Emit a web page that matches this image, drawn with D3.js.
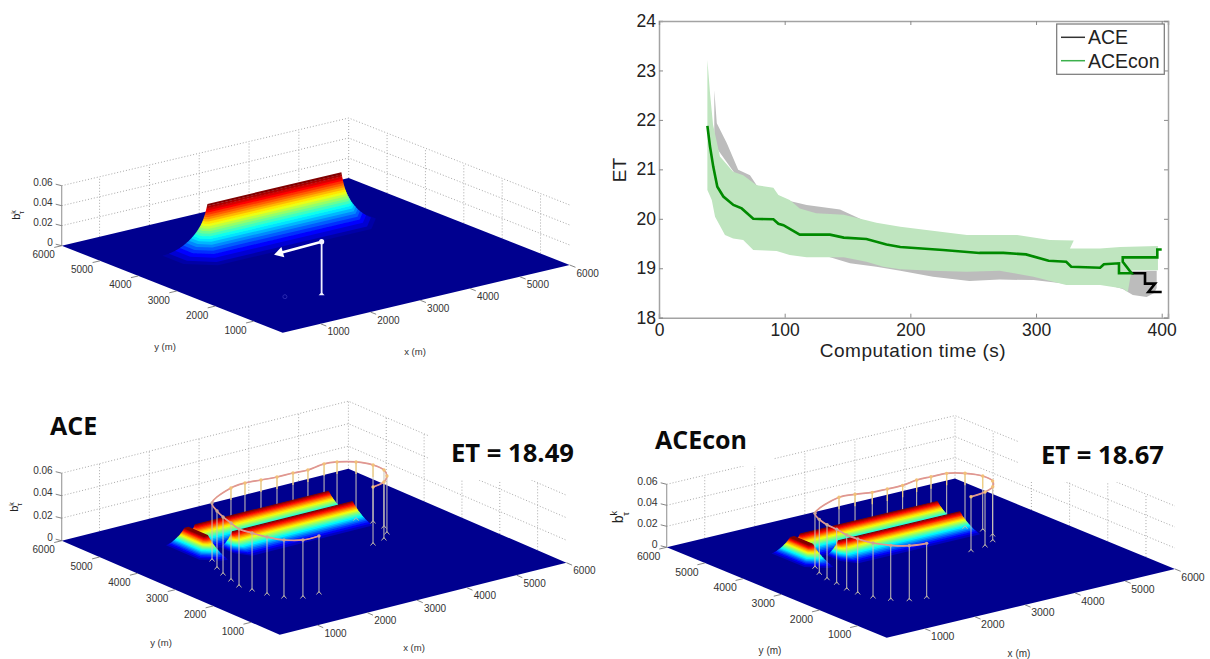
<!DOCTYPE html>
<html>
<head>
<meta charset="utf-8">
<script src="https://cdn.jsdelivr.net/npm/d3@7"></script>
<style>
  html, body { margin: 0; padding: 0; background: #fff; }
  svg { display: block; }
  text { font-family: "Liberation Sans", Arial, sans-serif; }
</style>
</head>
<body>
<div id="chart"></div>
<script>
// ---------- convergence plot (top right) ----------
var etTicks = [18, 19, 20, 21, 22, 23, 24];
var timeTicks = [0, 100, 200, 300, 400];

var aceconT = [38.5, 40.6, 43.2, 46.4, 51.2, 59.2, 65.8, 75, 91, 95, 99, 112, 136, 147, 165, 181, 192, 226, 255, 274, 292, 310, 324, 328, 351, 354, 366, 366, 376, 369, 369, 396.5, 396.5, 400];
var aceconMean = [21.88, 21.46, 21.05, 20.65, 20.45, 20.28, 20.21, 20.0, 19.99, 19.9, 19.87, 19.68, 19.68, 19.62, 19.59, 19.48, 19.43, 19.37, 19.31, 19.31, 19.28, 19.15, 19.13, 19.03, 19.01, 19.08, 19.1, 18.9, 18.9, 19.13, 19.22, 19.22, 19.38, 19.38];
var aceconUpT = [38.5, 40.6, 43, 48.5, 59, 67, 77.7, 91, 95, 104, 112, 125, 147, 165, 173, 192, 224, 245, 285, 311, 330, 327, 351, 367, 397];
var aceconUp = [23.21, 22.54, 21.9, 21.26, 20.95, 20.88, 20.68, 20.63, 20.48, 20.38, 20.21, 20.11, 20.08, 19.97, 19.92, 19.84, 19.74, 19.67, 19.67, 19.57, 19.56, 19.4, 19.4, 19.43, 19.45];
var aceconLowT = [38.5, 42, 44.6, 52.5, 59, 67, 75, 93.6, 104, 117.5, 147, 165, 178.5, 192, 218, 245, 271, 298, 324, 351, 369, 373, 376, 397];
var aceconLow = [20.58, 20.38, 20.04, 19.67, 19.6, 19.57, 19.37, 19.35, 19.27, 19.22, 19.22, 19.13, 19.03, 18.98, 18.95, 18.93, 18.95, 18.83, 18.66, 18.66, 18.59, 18.52, 18.96, 18.96];

var aceT = [376, 386.7, 386.7, 394.7, 389.4, 400];
var aceMean = [18.9, 18.9, 18.69, 18.69, 18.52, 18.52];
var aceUpT = [44, 46, 54, 63, 72.4, 77.7, 104, 117.5, 144, 160, 200, 300, 369, 396];
var aceUp = [22.6, 21.93, 21.53, 20.99, 20.88, 20.68, 20.36, 20.28, 20.19, 20.0, 19.5, 19.2, 18.95, 18.95];
var aceLowT = [44, 100, 152, 173, 192, 218, 247, 271, 298, 322, 352, 369, 377, 388, 394, 396];
var aceLow = [21.5, 19.5, 19.1, 19.03, 18.95, 18.83, 18.74, 18.77, 18.76, 18.69, 18.7, 18.58, 18.46, 18.42, 18.5, 18.6];

// ---------- surface plots ----------
var floorTicks = [1000, 2000, 3000, 4000, 5000, 6000];
var beliefTicks = [0, 0.02, 0.04, 0.06];

// single ridge, top panel
var topRidgeX0 = [1968];
var topRidgeX1 = [4656];
var topRidgeY0 = [4445];
var topRidgeY1 = [4445];
var topLevels = [0.045, 0.043, 0.041, 0.039, 0.037, 0.035, 0.033, 0.031, 0.029, 0.027, 0.025, 0.023, 0.021, 0.019, 0.017, 0.015, 0.013, 0.011, 0.009, 0.007, 0.005, 0.003, 0.001, 0];
var topReach = [0, 8, 16, 24, 34, 44, 56, 68, 82, 98, 116, 136, 160, 186, 214, 246, 282, 322, 368, 420, 480, 560, 670, 780];

// top panel track: the last leg flown and where the sensor sits
var topTrackX = [1953, 1069];
var topTrackY = [1450, 1389];
var topTrackZ = 0.0526;
var topGroundX = [1416];
var topGroundY = [1709];

// two ridges and their hooked end, lower panels
var aceRidgeX0 = [1953, 2217, 1720];
var aceRidgeX1 = [4637, 4637, 1800];
var aceRidgeY0 = [4733, 4099, 4190];
var aceRidgeY1 = [4733, 4099, 4700];
var conRidgeX0 = [1895, 2170, 1670];
var conRidgeX1 = [4638, 4604, 1750];
var conRidgeY0 = [4679, 4044, 4150];
var conRidgeY1 = [4679, 4044, 4640];
var lowLevels = [0.014, 0.0133, 0.0126, 0.0119, 0.0112, 0.0105, 0.0098, 0.0091, 0.0084, 0.0077, 0.007, 0.0063, 0.0056, 0.0049, 0.0042, 0.0035, 0.0028, 0.0021, 0.0014, 0.0007, 0];
var lowReach = [0, 15, 30, 45, 60, 75, 95, 115, 135, 155, 180, 205, 230, 255, 285, 315, 345, 380, 420, 470, 530];

// flight tracks, from the end of the run back round the ridges
var aceTrackX = [1967, 1645, 1404, 1277, 1205, 1158, 1233, 1308, 1408, 1580, 2263, 2587, 2879, 3170, 3492, 3770, 4154, 4375, 4616, 4743, 4735, 4596, 4381, 4095];
var aceTrackY = [1473, 1474, 1658, 1939, 2240, 2522, 2832, 3142, 3433, 3790, 4188, 4244, 4205, 4165, 4165, 4136, 4215, 4163, 3978, 3696, 3396, 3135, 2932, 2844];
var conTrackX = [1989, 1695, 1473, 1320, 1249, 1233, 1282, 1301, 1369, 1500, 2296, 2591, 2870, 3162, 3470, 3810, 4093, 4396, 4628, 4769, 4740, 4566, 4306, 3984];
var conTrackY = [1485, 1556, 1750, 2013, 2321, 2588, 2915, 3193, 3485, 3769, 4183, 4150, 4065, 4054, 4055, 4134, 4129, 4116, 3940, 3661, 3364, 3133, 2994, 2939];
var aceTrackZ = 0.0507;
var conTrackZ = 0.0514;

var W = 1210, H = 659;
var svg = d3.select("#chart").append("svg").attr("width", W).attr("height", H);

var defs = svg.append("defs");
defs.append("filter").attr("id", "soft").append("feGaussianBlur").attr("stdDeviation", 0.7);
defs.append("filter").attr("id", "softer").append("feGaussianBlur").attr("stdDeviation", 0.35);

// matlab jet colormap
var jet = d3.scaleLinear()
  .domain([0, 0.11, 0.36, 0.62, 0.87, 1])
  .range(["#00008f", "#0000ff", "#00ffff", "#ffff00", "#ff0000", "#800000"]);

// floor scale, same in all three panels
var unit = d3.scaleLinear().domain([240, 6000]).range([0, 1]);

function drawPanel(p) {
  var g = svg.append("g");
  var zPx = d3.scaleLinear().domain([0, 0.06]).range([0, p.zHeight]);

  // y=6000 sits at the left corner, x=6000 at the right corner
  function project(x, y, z) {
    var a = unit(x), b = 1 - unit(y);
    return [p.left[0] + a * p.xDir[0] + b * p.yDir[0],
            p.left[1] + a * p.xDir[1] + b * p.yDir[1] - zPx(z || 0)];
  }
  var line = d3.line();
  var smooth = d3.line().curve(d3.curveCatmullRom);

  // back walls
  var wall = g.append("g").attr("fill", "none").attr("stroke", "#a9a9a9")
    .attr("stroke-width", 1).attr("stroke-dasharray", "1,2");
  beliefTicks.slice(1).forEach(function(z) {
    wall.append("path").attr("d", line([project(240, 6000, z), project(6000, 6000, z), project(6000, 240, z)]));
  });
  floorTicks.forEach(function(t) {
    wall.append("path").attr("d", line([project(t, 6000, 0), project(t, 6000, 0.06)]));
    if (t < 6000) wall.append("path").attr("d", line([project(6000, t, 0), project(6000, t, 0.06)]));
  });

  // text boxes pasted over the grid in the original slide
  (p.masks || []).forEach(function(m) {
    g.append("rect").attr("x", m[0]).attr("y", m[1]).attr("width", m[2]).attr("height", m[3]).attr("fill", "#fff");
  });

  // floor
  g.append("path")
    .attr("d", line([project(240, 6000), project(6000, 6000), project(6000, 240), project(240, 240)]) + "Z")
    .attr("fill", "#00008f");

  // stems behind the ridges
  var stems = p.trackX ? p.trackX.map(function(x, i) {
    return { base: project(x, p.trackY[i], 0), top: project(x, p.trackY[i], p.trackZ), i: i };
  }) : [];
  var backStems = stems.filter(function(d) { return d.i >= 10 && d.i < 20; });
  var frontStems = stems.filter(function(d) { return d.i < 10 || d.i >= 20; });

  g.append("g").selectAll("path").data(backStems).join("path")
    .attr("d", function(d) { return line([d.base, d.top]); })
    .attr("stroke", "#c9c3b8").attr("stroke-width", 1).attr("fill", "none");

  // ridges: a hull between each level's outline and the next one down, lowest first
  function outline(k, i) {
    var r = p.reach[i], c = r * 0.5;
    var xa = p.x0[k] - r * p.leftF[k], xb = p.x1[k] + r * p.rightF[k];
    var ya = p.y0[k] - r, yb = p.y1[k] + r * 0.2;
    var cl = Math.min(c, r * p.leftF[k]), cr = Math.min(c, r * p.rightF[k]);
    return [[xa + cl, ya], [xb - cr, ya], [xb, ya + c], [xb, yb], [xa, yb], [xa, ya + c]].map(function(q) {
      return project(q[0], q[1], p.levels[i]);
    });
  }
  var surf = g.append("g").attr("filter", "url(#soft)");
  d3.range(p.levels.length - 2, -1, -1).forEach(function(i) {
    p.x0.forEach(function(x0, k) {
      var hull = d3.polygonHull(outline(k, i).concat(outline(k, i + 1)));
      surf.append("path")
        .attr("d", line(hull) + "Z")
        .attr("fill", jet(p.levels[i] / p.levels[0]));
    });
  });

  // flight track
  if (p.trackX) {
    g.append("g").selectAll("path").data(frontStems).join("path")
      .attr("d", function(d) { return line([d.base, d.top]); })
      .attr("stroke", "#c9c3b8").attr("stroke-width", 1).attr("fill", "none");
    g.append("g").selectAll("path").data(frontStems.concat(backStems.filter(function(d) { return d.i > 17; }))).join("path")
      .attr("d", function(d) {
        return line([[d.base[0] - 2.5, d.base[1] + 1.5], [d.base[0], d.base[1] - 1.5], [d.base[0] + 2.5, d.base[1] + 1.5]]);
      })
      .attr("stroke", "#bdb5a6").attr("stroke-width", 1).attr("fill", "none");
    g.append("g").selectAll("path").data(backStems).join("path")
      .attr("d", function(d) { return line([d.top, [d.top[0], d.top[1] + 12]]); })
      .attr("stroke", "#f4cf7d").attr("stroke-width", 1.2).attr("fill", "none");
    g.append("path")
      .attr("d", smooth(stems.map(function(d) { return d.top; })))
      .attr("fill", "none").attr("stroke", "#e6a07f").attr("stroke-width", 1.7);
    g.append("path")
      .attr("d", smooth(stems.map(function(d) { return d.top; })))
      .attr("fill", "none").attr("stroke", "#d98fa6").attr("stroke-width", 0.8);
    g.append("g").selectAll("circle").data(stems).join("circle")
      .attr("cx", function(d) { return d.top[0]; })
      .attr("cy", function(d) { return d.top[1]; })
      .attr("r", 1.7)
      .attr("fill", function(d) { return d.i >= 10 ? "#f2c078" : "#c9a596"; });
  }

  // top panel's short white track
  if (p.whiteX) {
    var w = p.whiteX.map(function(x, i) { return project(x, p.whiteY[i], p.whiteZ); });
    var foot = project(p.whiteX[0], p.whiteY[0], 0);
    var tr = g.append("g").attr("filter", "url(#softer)");
    tr.append("path").attr("d", line([foot, w[0]])).attr("stroke", "#eef").attr("stroke-width", 1.8).attr("fill", "none");
    tr.append("path").attr("d", line(w)).attr("stroke", "#fff").attr("stroke-width", 2.6).attr("fill", "none");
    tr.append("circle").attr("cx", w[0][0]).attr("cy", w[0][1]).attr("r", 2.6).attr("fill", "#eef");
    tr.append("path").attr("d", d3.symbol(d3.symbolTriangle, 48)())
      .attr("transform", "translate(" + w[1] + ") rotate(-106)").attr("fill", "#fff");
    tr.append("path").attr("d", line([[foot[0] - 3, foot[1] + 1], [foot[0], foot[1] - 2], [foot[0] + 3, foot[1] + 1]]) + "Z").attr("fill", "#eef");
    var gr = project(p.groundX[0], p.groundY[0], 0);
    tr.append("circle").attr("cx", gr[0]).attr("cy", gr[1]).attr("r", 2).attr("fill", "none").attr("stroke", "#2a2ab0").attr("stroke-width", 1);
  }

  // axes
  var ax = g.append("g").attr("stroke", "#777").attr("stroke-width", 0.9).attr("fill", "none");
  ax.append("path").attr("d", line([project(240, 6000, 0), project(240, 6000, 0.06)])).attr("stroke", "#a0a0a0").attr("stroke-width", 1.2);
  var labels = g.append("g").attr("fill", "#333").attr("font-size", p.fontSize);
  beliefTicks.forEach(function(z) {
    var q = project(240, 6000, z);
    ax.append("path").attr("d", line([[q[0] - 6, q[1] - 1.5], q]));
    labels.append("text").attr("x", q[0] - 9).attr("y", q[1] - 3).attr("dy", ".35em")
      .attr("text-anchor", "end").text(z);
  });
  floorTicks.forEach(function(t) {
    var q = project(t, 240, 0);
    ax.append("path").attr("d", line([q, project(t, 90, 0)]));
    labels.append("text").attr("x", q[0] + 18).attr("y", q[1] + 8).attr("dy", ".35em")
      .attr("text-anchor", "middle").text(t);
    q = project(240, t, 0);
    ax.append("path").attr("d", line([q, project(90, t, 0)]));
    labels.append("text").attr("x", q[0] - 18).attr("y", q[1] + 9).attr("dy", ".35em")
      .attr("text-anchor", "middle").text(t);
  });
  labels.append("text").attr("x", p.yTitle[0]).attr("y", p.yTitle[1]).attr("text-anchor", "middle").attr("font-size", p.titleSize).text("y (m)");
  labels.append("text").attr("x", p.xTitle[0]).attr("y", p.xTitle[1]).attr("text-anchor", "middle").attr("font-size", p.titleSize).text("x (m)");

  // b^k_tau
  var bl = g.append("text").attr("transform", "translate(" + p.bLabel[0] + "," + p.bLabel[1] + ") rotate(-90)")
    .attr("fill", "#222").attr("font-size", p.bSize).attr("text-anchor", "middle");
  bl.append("tspan").text("b");
  bl.append("tspan").attr("font-size", p.bSize * 0.65).attr("dy", -p.bSize * 0.4).text("k");
  bl.append("tspan").attr("font-size", p.bSize * 0.65).attr("dx", -p.bSize * 0.35).attr("dy", p.bSize * 0.8).text("τ");
}

drawPanel({
  left: [61.7, 245.7], xDir: [287, -67.7], yDir: [221, 87], zHeight: 60, fontSize: 10, titleSize: 9.5,
  x0: topRidgeX0, x1: topRidgeX1, y0: topRidgeY0, y1: topRidgeY1, levels: topLevels, reach: topReach,
  leftF: [1], rightF: [0.5],
  whiteX: topTrackX, whiteY: topTrackY, whiteZ: topTrackZ, groundX: topGroundX, groundY: topGroundY,
  yTitle: [165, 350], xTitle: [415, 355], bLabel: [20, 215], bSize: 11
});
drawPanel({
  left: [61.7, 540.7], xDir: [286.7, -72], yDir: [218, 94], zHeight: 67.5, fontSize: 10, titleSize: 9.5,
  x0: aceRidgeX0, x1: aceRidgeX1, y0: aceRidgeY0, y1: aceRidgeY1, levels: lowLevels, reach: lowReach,
  leftF: [0.3, 0.3, 0.55], rightF: [0.15, 0.15, 0.05],
  trackX: aceTrackX, trackY: aceTrackY, trackZ: aceTrackZ, masks: [[428, 400, 150, 80]],
  yTitle: [161, 646], xTitle: [414, 651], bLabel: [18, 507], bSize: 11
});
drawPanel({
  left: [666.7, 547.3], xDir: [288.3, -68.7], yDir: [220, 90.4], zHeight: 63, fontSize: 10.5, titleSize: 10,
  x0: conRidgeX0, x1: conRidgeX1, y0: conRidgeY0, y1: conRidgeY1, levels: lowLevels, reach: lowReach,
  leftF: [0.3, 0.3, 0.55], rightF: [0.15, 0.15, 0.05],
  trackX: conTrackX, trackY: conTrackY, trackZ: conTrackZ, masks: [[640, 420, 133, 46], [1018, 420, 170, 62]],
  yTitle: [770, 654], xTitle: [1019, 656.5], bLabel: [623, 517], bSize: 14
});

// slide captions
[["ACE", 50, 435, 25], ["ET = 18.49", 451, 462, 25.6], ["ACEcon", 655, 449, 25], ["ET = 18.67", 1041, 464, 25.6]].forEach(function(c) {
  svg.append("text").attr("x", c[1]).attr("y", c[2]).attr("font-size", c[3])
    .attr("font-weight", 700).attr("fill", "#0a0a0a").style("font-family", "'Open Sans', sans-serif").text(c[0]);
});

// ---------- convergence plot ----------
var xScale = d3.scaleLinear().domain([0, 405]).range([659, 1168]);
var yScale = d3.scaleLinear().domain([18, 24]).range([317.7, 21]);
var chart = svg.append("g").attr("filter", "url(#softer)");

function pairs(ts, vs) {
  return ts.map(function(t, i) { return [xScale(t), yScale(vs[i])]; });
}
var pathLine = d3.line();

chart.append("path")
  .attr("d", pathLine(pairs(aceUpT, aceUp).concat(pairs(aceLowT, aceLow).reverse())) + "Z")
  .attr("fill", "#bcbcbc");
chart.append("path")
  .attr("d", pathLine(pairs(aceconUpT, aceconUp).concat(pairs(aceconLowT, aceconLow).reverse())) + "Z")
  .attr("fill", "#bfe5bf");
chart.append("path").attr("d", pathLine(pairs(aceT, aceMean)))
  .attr("fill", "none").attr("stroke", "#000").attr("stroke-width", 2.6);
chart.append("path").attr("d", pathLine(pairs(aceconT, aceconMean)))
  .attr("fill", "none").attr("stroke", "#008a00").attr("stroke-width", 2.6);

var xAxis = d3.axisBottom(xScale).tickValues(timeTicks).tickSize(-4).tickPadding(6).tickFormat(d3.format("d"));
var yAxis = d3.axisLeft(yScale).tickValues(etTicks).tickSize(-4).tickPadding(3).tickFormat(d3.format("d"));
var gx = svg.append("g").attr("transform", "translate(0,317.7)").call(xAxis);
var gy = svg.append("g").attr("transform", "translate(659,0)").call(yAxis);
var gt = svg.append("g").attr("transform", "translate(0,21)").call(d3.axisTop(xScale).tickValues(timeTicks).tickSize(-4).tickFormat(""));
var gr = svg.append("g").attr("transform", "translate(1168,0)").call(d3.axisRight(yScale).tickValues(etTicks).tickSize(-4).tickFormat(""));
[gx, gy, gt, gr].forEach(function(a) {
  a.selectAll(".domain").attr("stroke", "#a3a3a3").attr("stroke-width", 1.5);
  a.selectAll(".tick line").attr("stroke", "#8a8a8a");
  a.selectAll("text").attr("font-size", 17.5).attr("fill", "#222").style("font-family", "'Liberation Sans', sans-serif");
});
gx.selectAll(".tick text").attr("y", 6);

svg.append("text").attr("x", 913).attr("y", 357).attr("text-anchor", "middle")
  .attr("font-size", 19).attr("letter-spacing", 0.5).attr("fill", "#222").text("Computation time (s)");
svg.append("text").attr("transform", "translate(626,170) rotate(-90)").attr("text-anchor", "middle")
  .attr("font-size", 19).attr("fill", "#222").text("ET");

// legend
var legend = svg.append("g");
legend.append("rect").attr("x", 1056.7).attr("y", 24).attr("width", 107.6).attr("height", 50.3)
  .attr("fill", "#fff").attr("stroke", "#777").attr("stroke-width", 1.2);
[["ACE", "#333", 37.3], ["ACEcon", "#3cb04c", 60.7]].forEach(function(l) {
  legend.append("line").attr("x1", 1061).attr("x2", 1085).attr("y1", l[2]).attr("y2", l[2])
    .attr("stroke", l[1]).attr("stroke-width", 1.5);
  legend.append("text").attr("x", 1088).attr("y", l[2]).attr("dy", ".35em")
    .attr("font-size", 19.5).attr("fill", "#222").text(l[0]);
});
</script>
</body>
</html>
